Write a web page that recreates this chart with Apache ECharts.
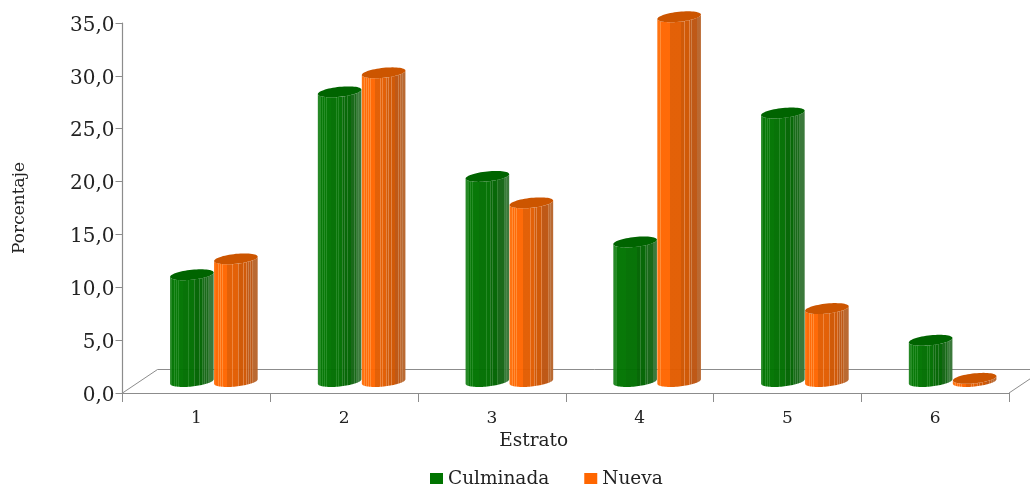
<!DOCTYPE html>
<html><head><meta charset="utf-8">
<style>html,body{margin:0;padding:0;background:#fff}#c{width:1030px;height:484px}</style>
<script src="https://cdn.jsdelivr.net/npm/echarts@6/dist/echarts.min.js"></script>
</head><body><div id="c"></div>
<script>
const categories = ['1','2','3','4','5','6'];
const culminada = [10.1, 27.4, 19.4, 13.2, 25.4, 3.9];
const nueva = [11.6, 29.2, 16.9, 34.5, 6.9, 0.3];
const yTicks = {min:0, max:35, interval:5};
const FONT = '"DejaVu Serif"';

// zones: [end offset, base colour, stripe colour]
function stripes(zones){
  const lines = [.06,.10,.145,.19,.42,.47,.56,.61,.67,.73,.78,.83,.88,.93];
  const out = [];
  const zoneAt = p => zones.find(z=>p<=z[0]) || zones[zones.length-1];
  let pos = 0;
  lines.concat([1]).forEach(p=>{
    zones.forEach(z=>{
      if(z[0]>pos && z[0]<p){ out.push({offset:pos,color:z[1]},{offset:z[0],color:z[1]}); pos=z[0]; }
    });
    const c = zoneAt(p)[1];
    out.push({offset:pos,color:c},{offset:p,color:c});
    if(p<1){ const w=.014, s=zoneAt(p)[2];
      out.push({offset:p,color:s},{offset:p+w,color:s}); pos=p+w; }
  });
  return {type:'linear',x:0,y:0,x2:1,y2:0,colorStops:out};
}
const greenFill = stripes([[.05,'#1f851f','#1f851f'],[.3,'#007400','#218a21'],[.55,'#006f00','#1f851f'],[.75,'#006400','#2c7f2c'],[.9,'#136513','#3a803a'],[1,'#357535','#458645']]);
const orangeFill = stripes([[.05,'#ff6f0a','#ff7a1a'],[.3,'#ff6600','#ff8a33'],[.55,'#e25c00','#ee8238'],[.75,'#cf5500','#e08040'],[.9,'#bd5410','#cc7c44'],[1,'#b8652c','#c07a48']]);

const DX_BASE = 17.5, DY_BASE = -11.5, A = 21.8, B = 5, TILT = 2.2;
function ell(cx,cy,t){ return [cx+A*Math.cos(t), cy+B*Math.sin(t)-TILT*Math.cos(t)]; }
function cylinder(fill,topColor,shift){
  return function(params,api){
    const base = api.coord([api.value(0),0]);
    const top = api.coord([api.value(0),api.value(1)]);
    const cx = base[0]+DX_BASE+shift, by = base[1]+DY_BASE, ty = top[1]+DY_BASE;
    const body=[], cap=[];
    body.push(ell(cx,ty,Math.PI));
    for(let i=40;i>=0;i--){ body.push(ell(cx,by,Math.PI*i/40)); }
    body.push(ell(cx,ty,0));
    for(let i=0;i<=40;i++){ body.push(ell(cx,ty,Math.PI*i/40)); }
    for(let i=0;i<60;i++){ cap.push(ell(cx,ty,2*Math.PI*i/60)); }
    return {type:'group',children:[
      {type:'polygon',shape:{points:body},style:{fill:fill,opacity:.97}},
      {type:'polygon',shape:{points:cap},style:{fill:topColor}}
    ]};
  };
}
function floor(params,api){
  const half=api.size([1,0])[0]/2;
  const c0=api.coord([0,0]), c5=api.coord([5,0]);
  const o=[c0[0]-half,c0[1]], e=[c5[0]+half,c5[1]];
  const s={stroke:'#8c8c8c',lineWidth:1,fill:'none'};
  const dx=35, dy=-23.5;
  return {type:'polyline',shape:{points:[o,[o[0]+dx,o[1]+dy],[e[0]+dx,e[1]+dy],e]},style:s};
}
const chart = echarts.init(document.getElementById('c'),null,{renderer:'canvas'});
chart.setOption({
  animation:false,
  backgroundColor:'#fff',
  textStyle:{fontFamily:FONT},
  legend:{top:465,left:425,itemWidth:13,itemHeight:13,itemGap:35,itemStyle:{borderWidth:0},icon:'rect',
    data:['Culminada','Nueva'],
    textStyle:{fontFamily:FONT,fontSize:18.5,color:'#222'}},
  grid:{left:122.5,right:21,top:23,bottom:91,containLabel:false},
  xAxis:{type:'category',data:categories,name:'Estrato',nameLocation:'middle',nameGap:28,
    nameTextStyle:{fontFamily:FONT,fontSize:18.5,color:'#222',padding:[0,64,0,0]},
    axisLine:{lineStyle:{color:'#8c8c8c',width:1.2}},
    axisTick:{show:true,length:9,lineStyle:{color:'#8c8c8c'}},
    axisLabel:{fontFamily:FONT,fontSize:17,color:'#222',margin:17},
    splitLine:{show:false}},
  yAxis:{type:'value',min:yTicks.min,max:yTicks.max,interval:yTicks.interval,
    name:'Porcentaje',nameLocation:'middle',nameGap:94,
    nameTextStyle:{fontFamily:FONT,fontSize:17,color:'#222'},
    axisLine:{show:true,lineStyle:{color:'#8c8c8c',width:1.2}},
    axisTick:{show:true,length:7,lineStyle:{color:'#8c8c8c'}},
    axisLabel:{fontFamily:FONT,fontSize:20,color:'#222',margin:8,
      formatter:v=>'{a|'+v.toFixed(1).replace('.',',')+'}',
      rich:{a:{fontFamily:FONT,fontSize:20,color:'#222',padding:[5,0,0,0]}}},
    splitLine:{show:false}},
  series:[
    {type:'custom',name:'floor',silent:true,clip:false,z:1,data:[[0,0]],renderItem:floor,encode:{x:0,y:1}},
    {type:'custom',name:'Culminada',clip:false,z:2,itemStyle:{color:'#007400'},renderItem:cylinder(greenFill,'#006400',-22),
      encode:{x:0,y:1},data:culminada.map((v,i)=>[i,v])},
    {type:'custom',name:'Nueva',clip:false,z:3,itemStyle:{color:'#ff6600'},renderItem:cylinder(orangeFill,'#cc5500',22),
      encode:{x:0,y:1},data:nueva.map((v,i)=>[i,v])}
  ]
});
</script></body></html>
